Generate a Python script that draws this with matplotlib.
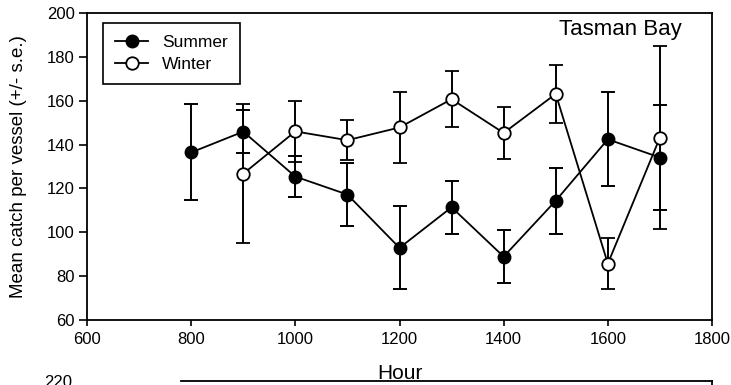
import matplotlib
matplotlib.use("Agg")
import matplotlib.pyplot as plt
from matplotlib.lines import Line2D

plt.rcParams['font.family'] = ['Liberation Sans', 'DejaVu Sans']

hours_summer = [800, 900, 1000, 1100, 1200, 1300, 1400, 1500, 1600, 1700]
summer_mean = [136.4, 145.9, 125.4, 117.2, 92.9, 111.4, 88.9, 114.4, 142.4, 134.1]
summer_se = [21.9, 9.7, 9.4, 14.2, 18.9, 12.0, 12.1, 15.0, 21.5, 24.1]

hours_winter = [900, 1000, 1100, 1200, 1300, 1400, 1500, 1600, 1700]
winter_mean = [126.7, 146.0, 142.0, 147.8, 160.7, 145.3, 163.1, 85.7, 143.2]
winter_se = [31.7, 14.0, 9.0, 16.3, 12.8, 11.7, 13.3, 11.7, 41.7]

fig = plt.figure(figsize=(7.31, 3.85), dpi=100)
ax = fig.add_axes([87/731, 1 - 320/385, 625/731, 307/385])

ax.errorbar(hours_summer, summer_mean, yerr=summer_se, color='black',
            marker='o', markersize=9, markerfacecolor='black',
            linewidth=1.3, elinewidth=1.4, capsize=5, capthick=1.4, zorder=3)
ax.errorbar(hours_winter, winter_mean, yerr=winter_se, color='black',
            marker='o', markersize=9, markerfacecolor='white',
            markeredgewidth=1.3, linewidth=1.3, elinewidth=1.4, capsize=5,
            capthick=1.4, zorder=3)

ax.set_xlim(600, 1800)
ax.set_ylim(60, 200)
ax.set_xticks(range(600, 1801, 200))
ax.set_yticks(range(60, 201, 20))
ax.tick_params(axis='x', direction='out', length=4, width=1.2, pad=5, labelsize=12)
ax.tick_params(axis='y', direction='out', length=6, width=1.2, pad=3, labelsize=12)
for s in ax.spines.values():
    s.set_linewidth(1.3)

ax.set_xlabel('Hour', fontsize=15, va='top')
ax.xaxis.set_label_coords(0.5, -0.143)
ax.set_ylabel('Mean catch per vessel (+/- s.e.)', fontsize=13.5, va='center')
ax.yaxis.set_label_coords(-0.109, 0.5)

ax.text(0.952, 0.945, 'Tasman Bay', transform=ax.transAxes, ha='right',
        va='center', fontsize=16)

handles = [
    Line2D([], [], color='black', linewidth=1.3, marker='o', markersize=9,
           markerfacecolor='black'),
    Line2D([], [], color='black', linewidth=1.3, marker='o', markersize=9,
           markerfacecolor='white', markeredgewidth=1.3),
]
leg = ax.legend(handles, ['Summer', 'Winter'], loc='upper left',
                bbox_to_anchor=(0.0256, 0.967), borderaxespad=0,
                fontsize=12.5, fancybox=False, edgecolor='black', framealpha=1,
                handlelength=1.9, handletextpad=0.8, labelspacing=0.35,
                borderpad=0.7)
leg.get_frame().set_linewidth(1.2)

# top edge of the next panel, cut off by the page
ax2 = fig.add_axes([87/731, -0.3, 625/731, 0.3 + 4/385])
ax2.set_xlim(600, 1800)
ax2.set_ylim(100, 220)
ax2.set_yticks([220])
ax2.set_xticks([])
ax2.tick_params(axis='y', length=0, pad=11, labelsize=12)
ax2.spines['left'].set_visible(False)
ax2.spines['bottom'].set_visible(False)
ax2.spines['top'].set_bounds(780, 1800)
ax2.spines['top'].set_linewidth(1.3)
ax2.spines['right'].set_linewidth(1.3)

fig.savefig('out.png', dpi=100)
